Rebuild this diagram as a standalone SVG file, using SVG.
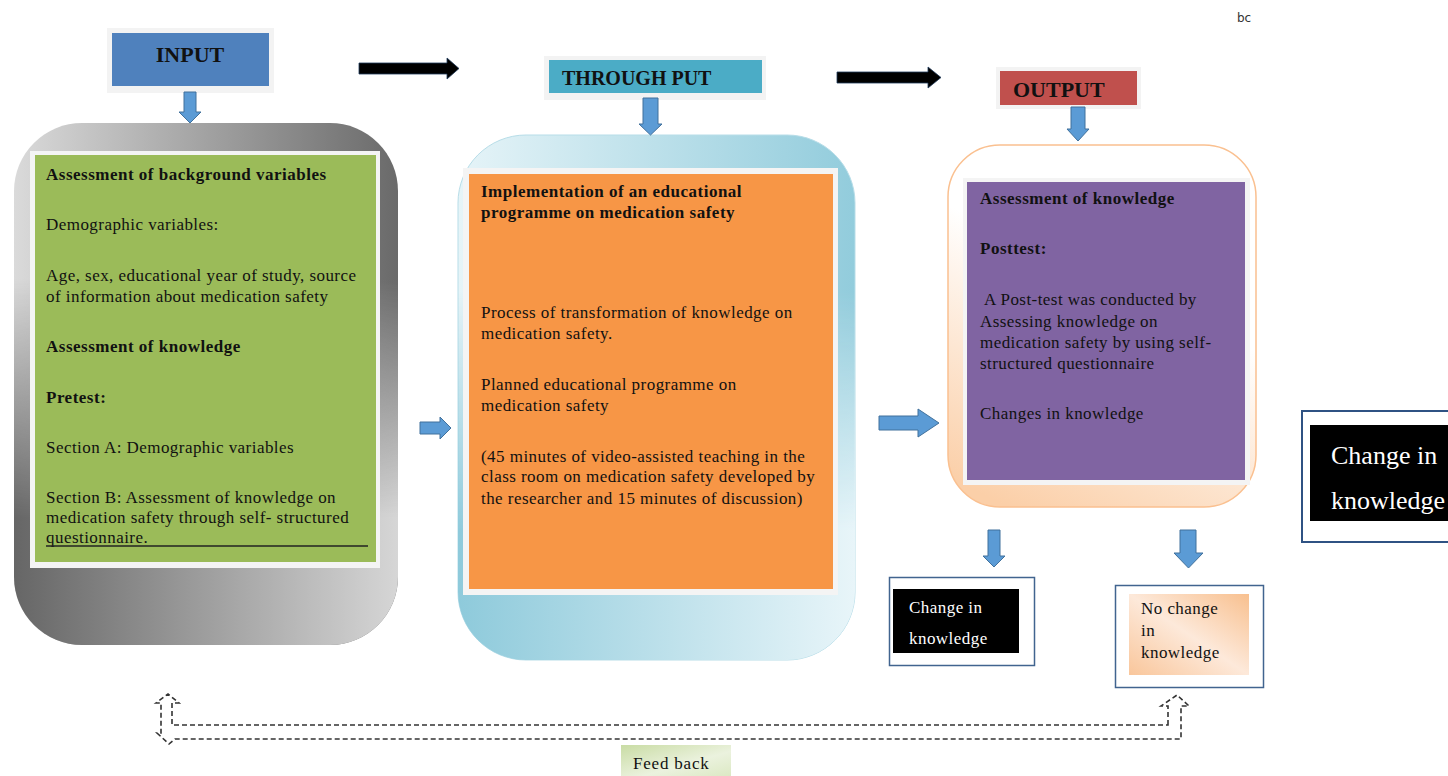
<svg xmlns="http://www.w3.org/2000/svg" width="1448" height="776" viewBox="0 0 1448 776">
<defs>
<linearGradient id="grayA" x1="0" y1="0" x2="1" y2="0"><stop offset="0" stop-color="#dadada"/><stop offset="1" stop-color="#6a6a6a"/></linearGradient>
<linearGradient id="grayB" x1="0" y1="0" x2="1" y2="0"><stop offset="0" stop-color="#666666"/><stop offset="1" stop-color="#d6d6d6"/></linearGradient>
<linearGradient id="blueA" x1="0" y1="0" x2="1" y2="0"><stop offset="0" stop-color="#e6f4f8"/><stop offset="1" stop-color="#92ccdc"/></linearGradient>
<linearGradient id="blueB" x1="0" y1="0" x2="1" y2="0"><stop offset="0" stop-color="#8ecadb"/><stop offset="1" stop-color="#e8f5f9"/></linearGradient>
<linearGradient id="fadeV" x1="0" y1="0" x2="0" y2="1"><stop offset="0.3" stop-color="#fff" stop-opacity="0"/><stop offset="0.75" stop-color="#fff" stop-opacity="1"/></linearGradient>
<mask id="mGray" maskUnits="userSpaceOnUse" x="0" y="120" width="400" height="530"><rect x="0" y="120" width="400" height="530" fill="url(#fadeV)"/></mask>
<mask id="mBlue" maskUnits="userSpaceOnUse" x="450" y="130" width="410" height="535"><rect x="450" y="130" width="410" height="535" fill="url(#fadeV)"/></mask>
<linearGradient id="peachFrame" x1="0.6" y1="0" x2="0.2" y2="1"><stop offset="0.35" stop-color="#ffffff"/><stop offset="1" stop-color="#fbcfa8"/></linearGradient>
<linearGradient id="peachBox" x1="1" y1="0" x2="0" y2="1"><stop offset="0" stop-color="#f8c08f"/><stop offset="0.5" stop-color="#fde9da"/><stop offset="1" stop-color="#f9c69b"/></linearGradient>
<linearGradient id="greenFb" x1="0" y1="0" x2="1" y2="1"><stop offset="0" stop-color="#c9dca4"/><stop offset="0.6" stop-color="#ebf2de"/><stop offset="1" stop-color="#dce9c4"/></linearGradient>
<style>
text{font-family:"Liberation Serif","Times New Roman",serif;fill:#111}
.b{font-size:17px;letter-spacing:0.45px}
.bb{font-size:17px;font-weight:bold;letter-spacing:0.5px}
.lbl{font-size:22px;font-weight:bold}
.w{fill:#fff}
.frame{fill:#f3f3f3}
.barrow{fill:#5b9bd5;stroke:#41719c;stroke-width:1}
.karrow{fill:#000;stroke:#1f3a5a;stroke-width:0.8}
.fb{fill:none;stroke:#333;stroke-width:1.6;stroke-dasharray:5 3}
</style>
</defs>

<text x="1237" y="22" style="font-family:'DejaVu Sans',sans-serif;font-size:12px;fill:#333">bc</text>

<g id="input-label">
<rect x="107" y="28" width="167" height="65" class="frame"/>
<rect x="112" y="33" width="157" height="53" fill="#4f81bd"/>
<text x="190" y="62" class="lbl" text-anchor="middle">INPUT</text>
</g>

<g id="input-box">
<rect x="14" y="123" width="384" height="522" rx="68" fill="url(#grayA)"/>
<rect x="14" y="123" width="384" height="522" rx="68" fill="url(#grayB)" mask="url(#mGray)"/>
<rect x="30" y="151" width="350" height="417" fill="#f4f4f4"/>
<rect x="35" y="155" width="341" height="407" fill="#9bbb59"/>
<text x="46" y="180" class="bb">Assessment of background variables</text>
<text x="46" y="230" class="b">Demographic variables:</text>
<text x="46" y="281" class="b">Age,  sex, educational year of study, source</text>
<text x="46" y="302" class="b">of information about medication safety</text>
<text x="46" y="352" class="bb">Assessment of knowledge</text>
<text x="46" y="403" class="bb">Pretest:</text>
<text x="46" y="453" class="b">Section A: Demographic variables</text>
<text x="46" y="503" class="b">Section B: Assessment of knowledge on</text>
<text x="46" y="523" class="b">medication safety through self- structured</text>
<text x="46" y="543" class="b">questionnaire.</text>
<line x1="46" y1="546" x2="368" y2="546" stroke="#222" stroke-width="1.3"/>
</g>

<g id="throughput-label">
<rect x="544" y="56" width="222" height="44" class="frame"/>
<rect x="549" y="60" width="213" height="33" fill="#4bacc6"/>
<text x="562" y="85" class="lbl" style="font-size:20px">THROUGH PUT</text>
</g>

<g id="throughput-box">
<rect x="458" y="135" width="397" height="525" rx="68" fill="url(#blueA)" stroke="#b7dde8" stroke-width="1"/>
<rect x="458" y="135" width="397" height="525" rx="68" fill="url(#blueB)" mask="url(#mBlue)"/>
<rect x="463" y="168" width="375" height="427" fill="#f4f4f4"/>
<rect x="469" y="174" width="364" height="415" fill="#f79646"/>
<text x="481" y="197" class="bb">Implementation of an educational</text>
<text x="481" y="218" class="bb">programme on medication safety</text>
<text x="481" y="318" class="b">Process of transformation of knowledge on</text>
<text x="481" y="339" class="b">medication safety.</text>
<text x="481" y="390" class="b">Planned educational programme on</text>
<text x="481" y="411" class="b">medication safety</text>
<text x="481" y="462" class="b">(45 minutes of video-assisted teaching in the</text>
<text x="481" y="482" class="b">class room on medication safety developed by</text>
<text x="481" y="504" class="b">the researcher and 15 minutes of discussion)</text>
</g>

<g id="output-label">
<rect x="996" y="67" width="145" height="42" class="frame"/>
<rect x="1000" y="71" width="137" height="34" fill="#c0504d"/>
<text x="1013" y="97" class="lbl">OUTPUT</text>
</g>

<g id="output-box">
<rect x="948" y="145" width="308" height="362" rx="52" fill="url(#peachFrame)" stroke="#fac090" stroke-width="1.5"/>
<rect x="963" y="178" width="287" height="307" fill="#f4f4f4"/>
<rect x="967" y="182" width="278" height="298" fill="#8064a2"/>
<text x="980" y="204" class="bb">Assessment of knowledge</text>
<text x="980" y="254" class="bb">Posttest:</text>
<text x="984" y="305" class="b">A Post-test was conducted by</text>
<text x="980" y="327" class="b">Assessing  knowledge on</text>
<text x="980" y="348" class="b">medication safety by using self-</text>
<text x="980" y="369" class="b">structured questionnaire</text>
<text x="980" y="419" class="b">Changes in knowledge</text>
</g>

<g id="change-small">
<rect x="889.5" y="577.5" width="145" height="88" fill="#fff" stroke="#41648f" stroke-width="1.5"/>
<rect x="893" y="589" width="126" height="64" fill="#000"/>
<text x="909" y="613" class="b w">Change in</text>
<text x="909" y="644" class="b w">knowledge</text>
</g>

<g id="no-change">
<rect x="1115.5" y="585.5" width="148" height="102" fill="#fff" stroke="#41648f" stroke-width="1.5"/>
<rect x="1129" y="594" width="120" height="81" fill="url(#peachBox)"/>
<text x="1141" y="614" class="b">No change</text>
<text x="1141" y="636" class="b">in</text>
<text x="1141" y="658" class="b">knowledge</text>
</g>

<g id="change-large">
<rect x="1302" y="411" width="160" height="131" fill="#fff" stroke="#2f5283" stroke-width="2"/>
<rect x="1310" y="425" width="140" height="96" fill="#000"/>
<text x="1331" y="464" style="font-size:26px" class="w">Change in</text>
<text x="1331" y="509" style="font-size:26px" class="w">knowledge</text>
</g>

<g id="feedback-label">
<rect x="621" y="745" width="110" height="31" fill="url(#greenFb)"/>
<text x="633" y="769" class="b" style="font-size:17px;letter-spacing:0.8px">Feed back</text>
</g>

<g id="connectors">
<path class="karrow" d="M359 63 H447 V58 L459 68.5 L447 79 V74 H359 Z"/>
<path class="karrow" d="M837 72 H928 V67 L941 77.5 L928 88 V83 H837 Z"/>
<path class="barrow" d="M184 92 H196 V112 H201 L190 123 L179 112 H184 Z"/>
<path class="barrow" d="M643 98 H658 V124 H662 L650.5 135 L639 124 H643 Z"/>
<path class="barrow" d="M1071 107 H1085 V129 H1089 L1078 141 L1067 129 H1071 Z"/>
<path class="barrow" d="M420 422 H440 V417 L451 428 L440 439 V434 H420 Z"/>
<path class="barrow" d="M879 416 H918 V409 L939 423 L918 437 V430 H879 Z"/>
<path class="barrow" d="M988 530 H1000 V556 H1005 L994 567 L983 556 H988 Z"/>
<path class="barrow" d="M1180 530 H1196 V553 H1203 L1188.5 568 L1174 553 H1180 Z"/>
<path class="fb" d="M1168 725 V706 H1161 L1177 695 L1189 706 H1181 V739 H175 L169 744 L157 733 H161 V703 H156 L168 694 L179 703 H172 V725 Z"/>
</g>
</svg>
